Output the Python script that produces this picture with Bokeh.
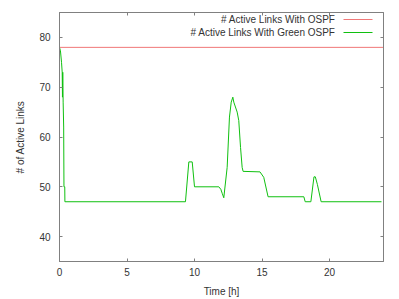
from bokeh.plotting import figure
from bokeh.models import LinearAxis, FixedTicker, Range1d, Label, Arrow
from bokeh.embed import file_html
from bokeh.resources import INLINE

# ---- data ----
ospf_time = [0, 24]
ospf_links = [78, 78]

green_time = [0, 0.07, 0.15, 0.2, 0.22, 0.24, 0.27, 0.31, 0.33, 0.39, 0.4,
              9.33, 9.58, 9.83, 10.0, 11.8, 11.95, 12.05, 12.17, 12.42, 12.59,
              12.72, 12.84, 12.91, 13.16, 13.28, 13.41, 13.53, 13.6, 14.85,
              15.13, 15.45, 18.1, 18.2, 18.62, 18.85, 18.95, 19.1, 19.38, 23.85]
green_links = [78, 77.3, 75, 73, 68, 73, 67, 62, 50, 50, 47,
               47, 55, 55, 50, 50, 49.5, 48.7, 47.8, 53.9, 64,
               67, 68, 67, 65, 63.3, 57.9, 53.9, 53.1, 53,
               51.9, 48, 48, 47, 47, 52, 52, 50.5, 47, 47]

x_ticks = [0, 5, 10, 15, 20]
y_ticks = [40, 50, 60, 70, 80]
legend_labels = ["# Active Links With OSPF", "# Active Links With Green OSPF"]

FONT = "Liberation Sans"
AX = "#808080"
TXT = "#333333"
RED = "#f07878"
GREEN = "#10c010"

p = figure(width=399, height=299, output_backend="svg", toolbar_location=None,
           x_range=Range1d(0, 24), y_range=Range1d(35, 85),
           x_axis_label="Time [h]", y_axis_label="# of Active Links",
           min_border_left=59, min_border_right=16, min_border_top=12,
           min_border_bottom=38)
p.grid.visible = False
p.outline_line_color = AX
p.background_fill_color = "white"
p.border_fill_color = "white"

for ax in (p.xaxis[0], p.yaxis[0]):
    ax.major_tick_in = 3
    ax.major_tick_out = 0
    ax.minor_tick_line_color = None
    ax.axis_line_color = AX
    ax.major_tick_line_color = AX
    ax.major_label_text_font = FONT
    ax.major_label_text_font_size = "10px"
    ax.major_label_text_color = TXT
    ax.axis_label_text_font = FONT
    ax.axis_label_text_font_size = "10px"
    ax.axis_label_text_font_style = "normal"
    ax.axis_label_text_color = TXT

p.xaxis[0].ticker = FixedTicker(ticks=x_ticks)
p.yaxis[0].ticker = FixedTicker(ticks=y_ticks)
p.xaxis[0].major_label_standoff = 6
p.xaxis[0].axis_label_standoff = 7
p.yaxis[0].major_label_standoff = 9
p.yaxis[0].axis_label_standoff = 10

top = LinearAxis(ticker=FixedTicker(ticks=x_ticks),
                 major_label_overrides={t: "" for t in x_ticks})
right = LinearAxis(ticker=FixedTicker(ticks=y_ticks),
                   major_label_overrides={t: "" for t in y_ticks})
for ax in (top, right):
    ax.major_tick_in = 3
    ax.major_tick_out = 0
    ax.minor_tick_line_color = None
    ax.axis_line_color = AX
    ax.major_tick_line_color = AX
    ax.major_label_standoff = 0
p.add_layout(top, "above")
p.add_layout(right, "right")

p.line(ospf_time, ospf_links, line_color=RED, line_width=1)
p.line(green_time, green_links, line_color=GREEN, line_width=1)

# gnuplot-style key: text right-aligned, line sample to its right
rows_y = [242, 229]
for lab, col, yy in zip(legend_labels, [RED, GREEN], rows_y):
    p.add_layout(Label(x=276, y=yy, x_units="screen", y_units="screen",
                       text=lab, text_align="right", text_baseline="middle",
                       text_font=FONT, text_font_size="10px", text_color=TXT))
    p.add_layout(Arrow(x_start=284, y_start=yy, x_end=313, y_end=yy,
                       start_units="screen", end_units="screen", end=None,
                       line_color=col, line_width=1))

open("out.html", "w").write(file_html(p, INLINE))
